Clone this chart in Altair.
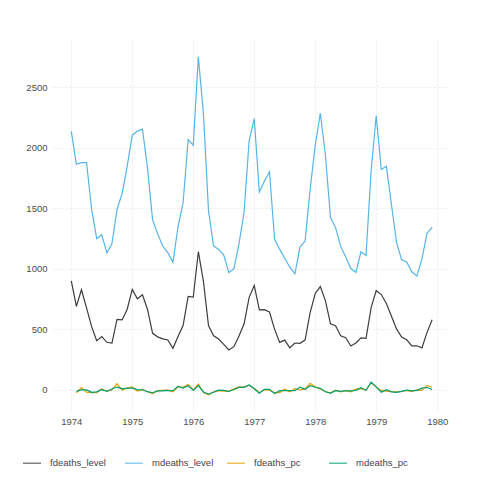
import altair as alt
import pandas as pd

years = [1974, 1975, 1976, 1977, 1978, 1979]
mdeaths = [2134, 1863, 1877, 1877, 1492, 1249, 1280, 1131, 1209, 1492, 1621, 1846,
           2103, 2137, 2153, 1833, 1403, 1288, 1186, 1133, 1053, 1347, 1545, 2066,
           2020, 2750, 2283, 1479, 1189, 1160, 1113, 970, 999, 1208, 1467, 2059,
           2240, 1634, 1722, 1801, 1246, 1162, 1087, 1013, 959, 1179, 1229, 1655,
           2019, 2284, 1942, 1423, 1340, 1187, 1098, 1004, 970, 1140, 1110, 1812,
           2263, 1820, 1846, 1531, 1215, 1075, 1056, 975, 940, 1081, 1294, 1341]
fdeaths = [901, 689, 827, 677, 522, 406, 441, 393, 387, 582, 578, 666,
           830, 752, 785, 664, 467, 438, 421, 412, 343, 440, 531, 771,
           767, 1141, 896, 532, 447, 420, 376, 330, 357, 445, 546, 764,
           862, 660, 663, 643, 502, 392, 411, 348, 387, 385, 411, 638,
           796, 853, 737, 546, 530, 446, 431, 362, 387, 430, 425, 679,
           821, 787, 713, 608, 504, 437, 414, 364, 364, 347, 475, 579]
series_names = ["fdeaths_level", "mdeaths_level", "fdeaths_pc", "mdeaths_pc"]
colors = ["#3d3d3d", "#56B4E9", "#E69F00", "#009E73"]
x_ticks = [1974, 1975, 1976, 1977, 1978, 1979, 1980]
y_ticks = [0, 500, 1000, 1500, 2000, 2500]

t = [y + m / 12 for y in years for m in range(12)]
f = pd.Series(fdeaths, dtype=float)
m = pd.Series(mdeaths, dtype=float)
cols = {
    "fdeaths_level": f,
    "mdeaths_level": m,
    "fdeaths_pc": f.pct_change() * 100,
    "mdeaths_pc": m.pct_change() * 100,
}
rows = []
for name in series_names:
    for ti, v in zip(t, cols[name]):
        if pd.notna(v):
            rows.append({"t": ti, "value": float(v), "series": name})
df = pd.DataFrame(rows)

chart = alt.Chart(df).mark_line(strokeWidth=1.2).encode(
    x=alt.X("t:Q", title=None,
            scale=alt.Scale(domain=[1973.7, 1980.21], nice=False, zero=False),
            axis=alt.Axis(values=x_ticks, format="d", labelFlush=False)),
    y=alt.Y("value:Q", title=None,
            scale=alt.Scale(domain=[-166, 2889], nice=False, zero=False),
            axis=alt.Axis(values=y_ticks, format="d")),
    color=alt.Color("series:N", title=None,
                    scale=alt.Scale(domain=series_names, range=colors),
                    sort=series_names,
                    legend=alt.Legend(orient="none", legendX=-31, legendY=413,
                                      direction="horizontal", columns=4,
                                      gridAlign="all", symbolType="stroke",
                                      symbolSize=324, symbolStrokeWidth=1.5,
                                      symbolOpacity=0.65,
                                      labelOffset=8, columnPadding=10)),
    detail="series:N",
).properties(
    width=397, height=370,
    autosize=alt.AutoSizeParams(type="none"),
    padding={"left": 45, "top": 32, "right": 20, "bottom": 62},
).configure_view(stroke=None).configure_axis(
    domain=False, ticks=False, grid=True, gridColor="#ebebeb", gridDash=[2, 2],
    labelFont="Liberation Sans", labelFontSize=9.5, labelColor="#4d4d4d",
    labelPadding=6,
).configure_legend(
    labelFont="Liberation Sans", labelFontSize=9.5, labelColor="#444444",
)

chart.save("out.html", embed_options={"renderer": "svg", "actions": False})
